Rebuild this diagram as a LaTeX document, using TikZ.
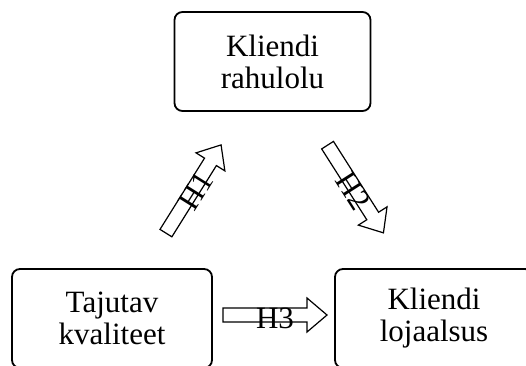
\documentclass[tikz,border=0pt]{standalone}
\usepackage{fontspec}
\setmainfont{Liberation Serif}
\begin{document}
\begin{tikzpicture}[x=1pt,y=1pt,
  box/.style={draw, line width=1.8pt, rounded corners=8pt, minimum width=196pt,
    minimum height=99pt, align=center, font=\fontsize{31}{32}\selectfont, inner sep=0pt},
  arrowline/.style={draw, line width=1.2pt, fill=white, line join=miter},
  lbl/.style={font=\fontsize{31}{32}\selectfont, inner sep=0pt},
  blockarrow/.pic={\draw[arrowline] (-52,-7) -- (32,-7) -- (32,-17) -- (52,0) -- (32,17) -- (32,7) -- (-52,7) -- cycle;}]
\useasboundingbox (0,0) rectangle (526,-365);
\clip (0,0) rectangle (526,-365);
\node[box] (sat) at (272.5,-61.5) {Kliendi\\rahulolu};
\node[box, minimum width=200pt] (qual) at (112,-318.5) {Tajutav\\kvaliteet};
\node[box, minimum width=198pt] (loy) at (434,-318.5) {Kliendi\\lojaalsus};
\coordinate (h1) at (193.5,-189);
\coordinate (h2) at (355.5,-189);
\coordinate (h3) at (275,-315);
\pic[rotate=58] at (h1) {blockarrow};
\pic[rotate=-57.5] at (h2) {blockarrow};
\pic at (h3) {blockarrow};
\node[lbl, rotate=58, yshift=-3pt] (t1) at (h1) {H1};
\node[lbl, rotate=-57.5, yshift=-3pt] (t2) at (h2) {H2};
\node[lbl, yshift=-3pt] (t3) at (h3) {H3};
\end{tikzpicture}
\end{document}
